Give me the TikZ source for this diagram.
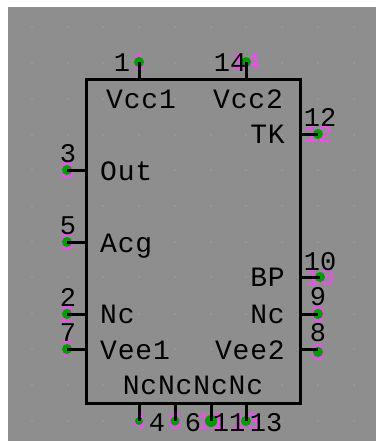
\documentclass[tikz,border=0pt]{standalone}
\usepackage{fontspec}
\setmainfont{Liberation Mono}
\newfontfamily\namefont[LetterSpace=3]{Liberation Mono}
\definecolor{sheet}{HTML}{8E8E8E}
\definecolor{griddot}{HTML}{B4B4B4}
\definecolor{pingreen}{HTML}{009A00}
\definecolor{pinpink}{HTML}{FF44FF}
\tikzstyle{body box}=[draw=black, line width=3pt, fill=none, inner sep=0pt, minimum width=214pt, minimum height=323pt]
\tikzstyle{pin dot}=[inner sep=0pt, circle, fill=pingreen, minimum size=10pt]
\tikzstyle{pin line}=[black, line width=3pt]
\tikzstyle{pin name}=[inner sep=0pt, black, text height=19pt, text depth=0pt, font=\namefont\fontsize{28}{28}\selectfont]
\tikzstyle{pin num}=[inner sep=0pt, black, text height=18pt, text depth=0pt, font=\fontsize{27}{27}\selectfont]
\tikzstyle{pin tag}=[inner sep=0pt, pinpink, text height=16pt, text depth=0pt, font=\fontsize{24}{24}\selectfont]

\begin{document}
\begin{tikzpicture}[x=1pt,y=-1pt]

    % Sheet
    \useasboundingbox (0,0) rectangle (376,441);
    \fill[sheet] (8,7) rectangle (376,441);
    \foreach \x in {32,68,103,139,175,211,246,282,318,354}
      \foreach \y in {27,63,99,135,170,206,242,277,314,349,385,421}
        \fill[griddot] (\x,\y) circle (.6pt);

    % Body
    \draw (193,241.5) node[body box] (body) {};

    % Tags
    \draw (139,62) node[pin tag] (t1) {1};
    \draw (246,62) node[pin tag] (t14) {14};
    \draw (318,134) node[pin tag] (t12) {12};
    \draw (67,170) node[pin tag] (t3) {3};
    \draw (67,242) node[pin tag] (t5) {5};
    \draw (67,314) node[pin tag] (t2) {2};
    \draw (67,349) node[pin tag] (t7) {7};
    \draw (320,277) node[pin tag] (t10) {10};
    \draw (318,314) node[pin tag] (t9) {9};
    \draw (318,352) node[pin tag] (t8) {8};
    \draw (139,421) node[pin tag] (t4) {4};
    \draw (175,421) node[pin tag] (t6) {6};
    \draw (211,421) node[pin tag] (t11) {11};
    \draw (246,421) node[pin tag] (t13) {13};

    % Dots
    \draw (t1) node[pin dot] (p1) {};
    \draw (t14) node[pin dot] (p14) {};
    \draw (t12) node[pin dot] (p12) {};
    \draw (t3) node[pin dot] (p3) {};
    \draw (t5) node[pin dot] (p5) {};
    \draw (t2) node[pin dot] (p2) {};
    \draw (t7) node[pin dot] (p7) {};
    \draw (t10) node[pin dot] (p10) {};
    \draw (t9) node[pin dot] (p9) {};
    \draw (t8) node[pin dot] (p8) {};
    \draw (t4) node[pin dot,minimum size=8pt] (p4) {};
    \draw (t6) node[pin dot,minimum size=9pt] (p6) {};
    \draw (t11) node[pin dot,minimum size=12pt] (p11) {};
    \draw (t13) node[pin dot] (p13) {};

    % Stubs
    \draw[pin line] (p1.center) -- (p1 |- body.north);
    \draw[pin line] (p14.center) -- (p14 |- body.north);
    \draw[pin line] (p12.center) -- (p12 -| body.east);
    \draw[pin line] (p3.center) -- (p3 -| body.west);
    \draw[pin line] (p5.center) -- (p5 -| body.west);
    \draw[pin line] (p2.center) -- (p2 -| body.west);
    \draw[pin line] (p7.center) -- (p7 -| body.west);
    \draw[pin line] (p10.center) -- (p10 -| body.east);
    \draw[pin line] (p9.center) -- (p9 -| body.east);
    \draw[pin line] (318,349) coordinate (p8end) -- (p8end -| body.east);
    \draw[pin line] (p4.center) -- (p4 |- body.south);
    \draw[pin line] (p6.center) -- (p6 |- body.south);
    \draw[pin line] (p11.center) -- (p11 |- body.south);
    \draw[pin line] (p13.center) -- (p13 |- body.south);

    % Numbers
    \draw (122,63) node[pin num] (n1) {1};
    \draw (230,63) node[pin num] (n14) {14};
    \draw (320,117) node[pin num] (n12) {12};
    \draw (68,153) node[pin num] (n3) {3};
    \draw (68,225) node[pin num] (n5) {5};
    \draw (68,297) node[pin num] (n2) {2};
    \draw (68,332) node[pin num] (n7) {7};
    \draw (320,261) node[pin num] (n10) {10};
    \draw (318,296) node[pin num] (n9) {9};
    \draw (318,332) node[pin num] (n8) {8};
    \draw (157,422) node[pin num] (n4) {4};
    \draw (193,422) node[pin num] (n6) {6};
    \draw (229,422) node[pin num] (n11) {11};
    \draw (266,422) node[pin num] (n13) {13};

    % Names
    \draw (106,99) node[pin name,anchor=west] (vcc1) {Vcc1};
    \draw (213,99) node[pin name,anchor=west] (vcc2) {Vcc2};
    \draw (285,134) node[pin name,anchor=east] (tk) {TK};
    \draw (100,171) node[pin name,anchor=west] (out) {Out};
    \draw (100,243) node[pin name,anchor=west] (acg) {Acg};
    \draw (100,314) node[pin name,anchor=west] (ncl) {Nc};
    \draw (100,350) node[pin name,anchor=west] (vee1) {Vee1};
    \draw (285,277) node[pin name,anchor=east] (bp) {BP};
    \draw (285,314) node[pin name,anchor=east] (ncr) {Nc};
    \draw (285,350) node[pin name,anchor=east] (vee2) {Vee2};
    \draw (193,385) node[pin name] (ncs) {NcNcNcNc};

\end{tikzpicture}
\end{document}
